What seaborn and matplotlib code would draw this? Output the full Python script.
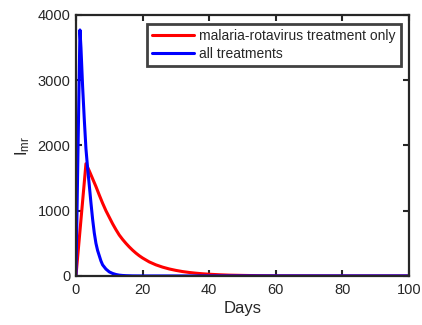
import numpy as np
import pandas as pd
import matplotlib
matplotlib.use("Agg")
import matplotlib.pyplot as plt
import seaborn as sns

# Data
red_days = [0, 3, 4, 5, 6, 7, 8, 9, 10, 11, 12, 13, 14, 15, 16, 17, 18, 19, 20, 22, 24, 26, 28,
            30, 32, 34, 36, 38, 40, 43, 46, 50, 55, 60, 70, 80, 90, 100]
red_vals = [0, 1720, 1610, 1490, 1370, 1240, 1115, 1000, 900, 800, 710, 627, 560, 500, 445, 395,
            350, 310, 275, 215, 170, 135, 107, 85, 67, 53, 42, 33, 26, 18, 12, 8, 4, 2, 1, 0, 0, 0]
blue_days = [0, 1.2, 1.5, 2, 2.5, 3, 3.5, 4, 4.5, 5, 5.5, 6, 6.5, 7, 7.5, 8, 9, 10, 11, 12, 13,
             14, 15, 17, 20, 30, 40, 60, 80, 100]
blue_vals = [0, 3770, 3500, 2900, 2400, 1950, 1650, 1390, 1120, 870, 660, 500, 390, 310, 230, 170,
             105, 62, 38, 22, 12, 7, 4, 1, 0, 0, 0, 0, 0, 0]
labels = ["malaria-rotavirus treatment only", "all treatments"]
xticks = [0, 20, 40, 60, 80, 100]
yticks = [0, 1000, 2000, 3000, 4000]

df = pd.concat([
    pd.DataFrame({"Days": red_days, "I": red_vals, "series": labels[0]}),
    pd.DataFrame({"Days": blue_days, "I": blue_vals, "series": labels[1]}),
])

sns.set_style("ticks")
plt.rcParams["font.family"] = ["Liberation Sans", "DejaVu Sans"]
plt.rcParams["mathtext.fontset"] = "custom"
plt.rcParams["mathtext.rm"] = "Liberation Sans"
plt.rcParams["mathtext.it"] = "Liberation Sans:italic"

fig = plt.figure(figsize=(4.22, 3.25), dpi=100)
ax = fig.add_axes([0.180, 0.151, 0.789, 0.803])

sns.lineplot(data=df, x="Days", y="I", hue="series", palette=["#ff0000", "#0000ff"],
             linewidth=2.2, ax=ax, legend=True, estimator=None, sort=False)

ax.set_xlim(0, 100)
ax.set_ylim(0, 4000)
ax.set_xticks(xticks)
ax.set_yticks(yticks)
ax.set_xlabel("Days", fontsize=12, color="#262626", labelpad=3)
ax.set_ylabel(r"I$_{\mathrm{mr}}$", fontsize=12, color="#262626", labelpad=4)
ax.tick_params(direction="in", length=4, width=1.5, top=True, right=True,
               labelsize=10.5, colors="#262626")
ax.tick_params(axis="x", pad=5)
ax.tick_params(axis="y", pad=4)
for s in ax.spines.values():
    s.set_visible(True)
    s.set_linewidth(1.6)
    s.set_color("#262626")

leg = ax.legend(title=None, loc="upper right", bbox_to_anchor=(0.975, 0.965),
                borderaxespad=0, fontsize=10, frameon=True, fancybox=False,
                handlelength=3.0, handletextpad=0.4, borderpad=0.35, labelspacing=0.3)
leg.get_frame().set_edgecolor("#111111")
leg.get_frame().set_linewidth(2)
for line in leg.get_lines():
    line.set_linewidth(2.2)

fig.savefig("out.png", dpi=100)
